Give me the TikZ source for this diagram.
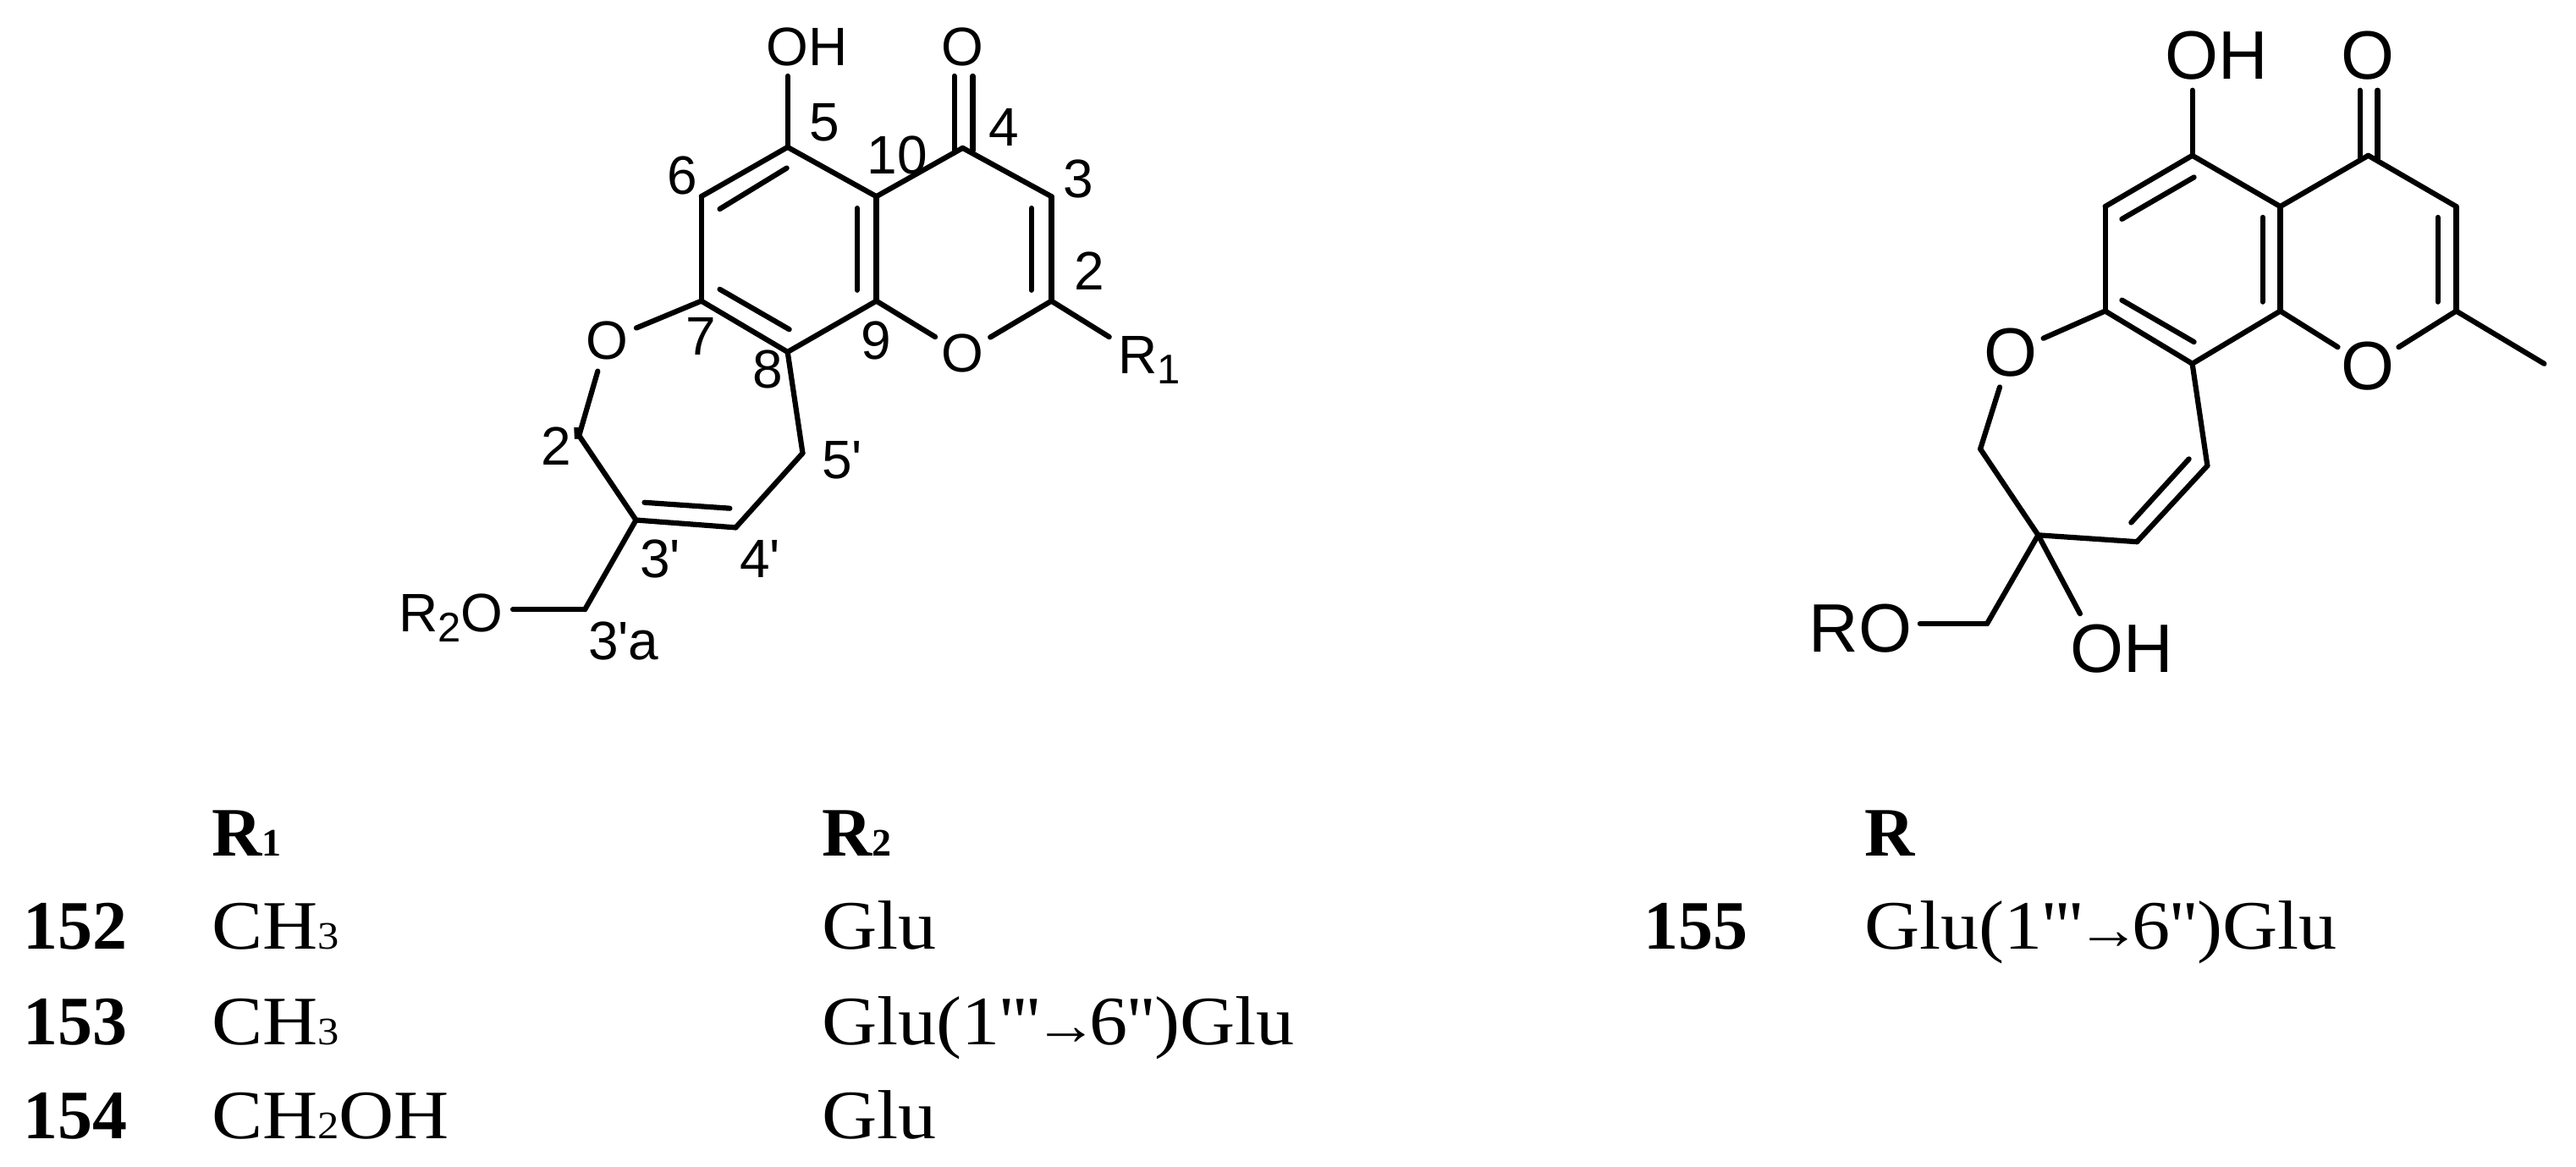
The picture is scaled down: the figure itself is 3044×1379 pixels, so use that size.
\documentclass[tikz,border=0pt]{standalone}
\usepackage{fontspec}
\newfontfamily\chemf{Liberation Sans}
\newfontfamily\tabf[FakeStretch=1.1]{Liberation Serif}
\newfontfamily\tabb{Liberation Serif}
\newcommand{\tsub}[1]{{\fontsize{23}{23}\selectfont #1}}
\newcommand{\csub}[1]{\raisebox{-6pt}{\fontsize{24.5}{24.5}\selectfont #1}}
\newcommand{\tarr}{\kern-4pt{\fontsize{34}{34}\selectfont →}\kern-5pt}
\tikzset{
  bond/.style={line width=3.1pt,line cap=round,black},
  lab/.style={font=\chemf\fontsize{32}{32}\selectfont,inner sep=0pt,outer sep=0pt},
  labr/.style={font=\chemf\fontsize{40.5}{40.5}\selectfont,inner sep=0pt,outer sep=0pt},
  hetero/.style={lab,circle,minimum size=38pt},
  heteror/.style={labr,circle,minimum size=40pt},
  tabt/.style={font=\tabf\fontsize{41}{41}\selectfont,anchor=base west,inner sep=0pt,outer sep=0pt},
  tabh/.style={font=\tabb\bfseries\fontsize{41}{41}\selectfont,anchor=base west,inner sep=0pt,outer sep=0pt},
}
\begin{document}
\begin{tikzpicture}[x=0.5pt,y=-0.5pt]
\useasboundingbox (0,0) rectangle (3044,1379);
% ---------- left molecule ----------
\begin{scope}[shift={(4.33,0)},xscale=.9897,yscale=.988]
\coordinate (c5) at (936,176);
\coordinate (c6) at (833,235);
\coordinate (c7) at (833,360);
\coordinate (c8) at (936,421);
\coordinate (c9) at (1042,360);
\coordinate (c10) at (1042,235);
\coordinate (c4) at (1145,177);
\coordinate (c3) at (1251,235);
\coordinate (c2) at (1251,360);
\coordinate (r1end) at (1320,403);
\coordinate (c2p) at (687,521);
\coordinate (c3p) at (755,622);
\coordinate (c4p) at (874,631);
\coordinate (c5p) at (954,542);
\coordinate (c3a) at (694,729);
\coordinate (ohe) at (936,91);
\coordinate (roe) at (608,729);
\coordinate (oa1) at (1135,91);
\coordinate (oa2) at (1135,180);
\coordinate (ob1) at (1157,91);
\coordinate (ob2) at (1157,180);
\coordinate (i1a) at (935,201);
\coordinate (i1b) at (855,250);
\coordinate (i2a) at (855,346);
\coordinate (i2b) at (938,394);
\coordinate (i3a) at (1019,249);
\coordinate (i3b) at (1019,347);
\coordinate (i4a) at (1227,249);
\coordinate (i4b) at (1227,347);
\coordinate (i5a) at (765,601);
\coordinate (i5b) at (867,608);
\node[hetero] (o1) at (1145,423) {O};
\node[hetero] (o7) at (720,407) {O};
\node[lab] (oh5) at (959,56) {OH};
\node[lab] (oc4) at (1145,56) {O};
\node[lab,anchor=base west] (r2o) at (472,756) {R\csub{2}O};
\node[lab,anchor=base west] (r1) at (1331,447) {R\csub{1}};
\foreach \a/\b in {c5/c6,c6/c7,c7/c8,c8/c9,c9/c10,c10/c5,c10/c4,c4/c3,c3/c2,c2/o1,o1/c9,c2/r1end,c7/o7,o7/c2p,c2p/c3p,c3p/c4p,c4p/c5p,c5p/c8,c3p/c3a,c3a/roe,c5/ohe,oa1/oa2,ob1/ob2,i1a/i1b,i2a/i2b,i3a/i3b,i4a/i4b,i5a/i5b}
  \draw[bond] (\a) -- (\b);
\node[lab] (n5) at (980,147) {5};
\node[lab] (n4) at (1194,152) {4};
\node[lab] (n10) at (1067,186) {10};
\node[lab] (n6) at (810,210) {6};
\node[lab] (n3) at (1283,214) {3};
\node[lab] (n2) at (1296,324) {2};
\node[lab] (n7) at (833,402) {7};
\node[lab] (n9) at (1042,407) {9};
\node[lab] (n8) at (912,442) {8};
\node[lab,anchor=west] (n2p) at (642,534) {2'};
\node[lab] (n5p) at (1001,550) {5'};
\node[lab] (n3p) at (784,668) {3'};
\node[lab] (n4p) at (903,669) {4'};
\node[lab] (n3a) at (740,767) {3'a};
\end{scope}
% ---------- right molecule ----------
\begin{scope}[shift={(20.5,0)},xscale=.99,yscale=.988]
\coordinate (d5) at (2596,186);
\coordinate (d6) at (2492,247);
\coordinate (d7) at (2492,372);
\coordinate (d8) at (2596,435);
\coordinate (d9) at (2701,372);
\coordinate (d10) at (2701,247);
\coordinate (d4) at (2806,186);
\coordinate (d3) at (2911,247);
\coordinate (d2) at (2911,372);
\coordinate (dme) at (3016,435);
\coordinate (d2p) at (2343,537);
\coordinate (d3p) at (2412,640);
\coordinate (d4p) at (2530,648);
\coordinate (d5p) at (2614,557);
\coordinate (d3a) at (2351,746);
\coordinate (dohe) at (2596,108);
\coordinate (droe) at (2271,746);
\coordinate (dohl) at (2462,734);
\coordinate (pa1) at (2796,108);
\coordinate (pa2) at (2796,191);
\coordinate (pb1) at (2817,108);
\coordinate (pb2) at (2817,191);
\coordinate (j1a) at (2598,212);
\coordinate (j1b) at (2512,262);
\coordinate (j2a) at (2512,359);
\coordinate (j2b) at (2598,409);
\coordinate (j3a) at (2680,260);
\coordinate (j3b) at (2680,361);
\coordinate (j4a) at (2889,260);
\coordinate (j4b) at (2889,361);
\coordinate (j5a) at (2523,625);
\coordinate (j5b) at (2592,549);
\node[heteror] (q1) at (2806,438) {O};
\node[heteror] (q7) at (2379,422) {O};
\node[labr] (qoh5) at (2625,66) {OH};
\node[labr] (qoc) at (2806,66) {O};
\node[labr] (qro) at (2200,752) {RO};
\node[labr] (qoh) at (2512,776) {OH};
\foreach \a/\b in {d5/d6,d6/d7,d7/d8,d8/d9,d9/d10,d10/d5,d10/d4,d4/d3,d3/d2,d2/q1,q1/d9,d2/dme,d7/q7,q7/d2p,d2p/d3p,d3p/d4p,d4p/d5p,d5p/d8,d3p/d3a,d3a/droe,d3p/dohl,d5/dohe,pa1/pa2,pb1/pb2,j1a/j1b,j2a/j2b,j3a/j3b,j4a/j4b,j5a/j5b}
  \draw[bond] (\a) -- (\b);
\end{scope}
% ---------- table ----------
\node[tabh] (hr1) at (250,1011) {R\tsub{1}};
\node[tabh] (hr2) at (971,1011) {R\tsub{2}};
\node[tabh] (hr) at (2203,1011) {R};
\node[tabh] (a152) at (27,1121) {152};
\node[tabh] (a153) at (27,1234) {153};
\node[tabh] (a154) at (27,1345) {154};
\node[tabh] (a155) at (1942,1121) {155};
\node[tabt] (r152) at (250,1121) {CH\tsub{3}};
\node[tabt] (r153) at (250,1234) {CH\tsub{3}};
\node[tabt] (r154) at (250,1345) {CH\tsub{2}OH};
\node[tabt] (s152) at (971,1121) {Glu};
\node[tabt] (s153) at (971,1234) {Glu(1'''\tarr 6'')Glu};
\node[tabt] (s154) at (971,1345) {Glu};
\node[tabt] (s155) at (2203,1121) {Glu(1'''\tarr 6'')Glu};
\end{tikzpicture}
\end{document}
